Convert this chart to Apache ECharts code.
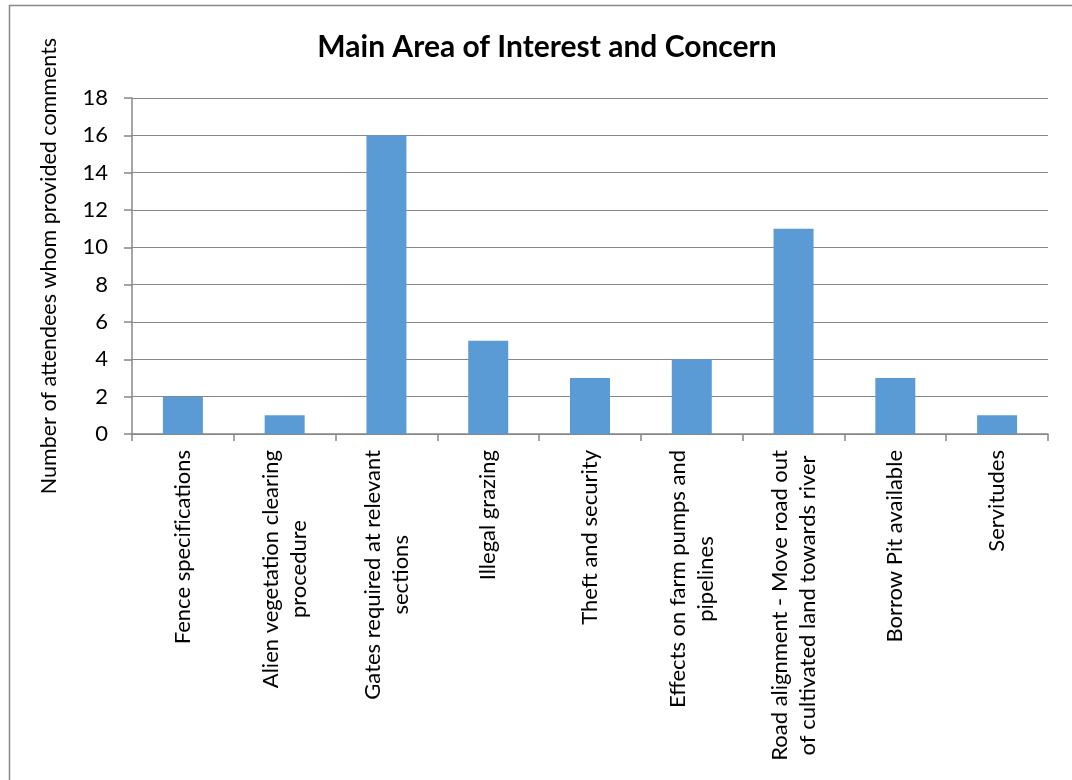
<!DOCTYPE html>
<html>
<head>
<meta charset="utf-8">
<title>Main Area of Interest and Concern</title>
<script src="https://cdn.jsdelivr.net/npm/echarts@6/dist/echarts.min.js"></script>
<style>
  html, body { margin: 0; padding: 0; background: #ffffff; }
  #chart { width: 1072px; height: 780px; }
</style>
</head>
<body>
<div id="chart"></div>
<script>
// Topics raised by attendees (line breaks mark where long labels wrap)
const categories = [
  'Fence specifications',
  'Alien vegetation clearing\nprocedure',
  'Gates required at relevant\nsections',
  'Illegal grazing',
  'Theft and security',
  'Effects on farm pumps and\npipelines',
  'Road alignment - Move road out\nof cultivated land towards river',
  'Borrow Pit available',
  'Servitudes'
];

// Number of attendees commenting on each topic
const attendeeCounts = [2, 1, 16, 5, 3, 4, 11, 3, 1];

// Value axis range and step
const yMin = 0;
const yMax = 18;
const yStep = 2;

const titleText = 'Main Area of Interest and Concern';
const yAxisTitle = 'Number of attendees whom provided comments';

const FONT = 'Lato, "Open Sans", sans-serif';
const AXIS_GREY = '#878787';

// keep "f" and "i" as separate glyphs (no fi ligature)
function noLigature(s) {
  return s.replace(/fi/g, 'f\u200Ci');
}

const chart = echarts.init(document.getElementById('chart'), null, { renderer: 'canvas' });

chart.setOption({
  backgroundColor: '#ffffff',
  animation: false,
  textStyle: { fontFamily: FONT },
  title: {
    text: titleText,
    left: 542,
    textAlign: 'center',
    top: 27,
    textStyle: { fontFamily: FONT, fontWeight: 'bold', fontSize: 30, color: '#000000' }
  },
  graphic: [{
    // outer chart frame, running past the right and bottom edges
    type: 'rect',
    silent: true,
    shape: { x: 9.5, y: 5.5, width: 1100, height: 800 },
    style: { fill: 'none', stroke: AXIS_GREY, lineWidth: 1.5 }
  }],
  grid: { left: 132, right: 24, top: 98, bottom: 346, containLabel: false },
  xAxis: {
    type: 'category',
    data: categories,
    axisLine: { show: true, lineStyle: { color: AXIS_GREY, width: 1.5 } },
    axisTick: { show: true, alignWithLabel: false, length: 7, lineStyle: { color: AXIS_GREY, width: 1.5 } },
    axisLabel: {
      interval: 0,
      rotate: 90,
      margin: 16,
      color: '#000000',
      fontFamily: FONT,
      fontSize: 22,
      formatter: function (value) {
        return value.split('\n').map(function (line) {
          return '{c|' + noLigature(line) + '}';
        }).join('\n');
      },
      rich: {
        c: { align: 'center', fontFamily: FONT, fontSize: 22, lineHeight: 28, color: '#000000' }
      }
    }
  },
  yAxis: {
    type: 'value',
    min: yMin,
    max: yMax,
    interval: yStep,
    name: yAxisTitle,
    nameLocation: 'middle',
    nameGap: 72,
    nameTextStyle: { fontFamily: FONT, fontSize: 21.5, color: '#000000' },
    axisLine: { show: true, lineStyle: { color: AXIS_GREY, width: 1.5 } },
    axisTick: { show: true, length: 8, lineStyle: { color: AXIS_GREY, width: 1.5 } },
    axisLabel: { margin: 24, color: '#000000', fontFamily: FONT, fontSize: 22 },
    splitLine: { show: true, lineStyle: { color: AXIS_GREY, width: 1.2 } }
  },
  series: [{
    type: 'bar',
    data: attendeeCounts,
    barWidth: 40,
    itemStyle: { color: '#5B9BD5' }
  }]
});
</script>
</body>
</html>
